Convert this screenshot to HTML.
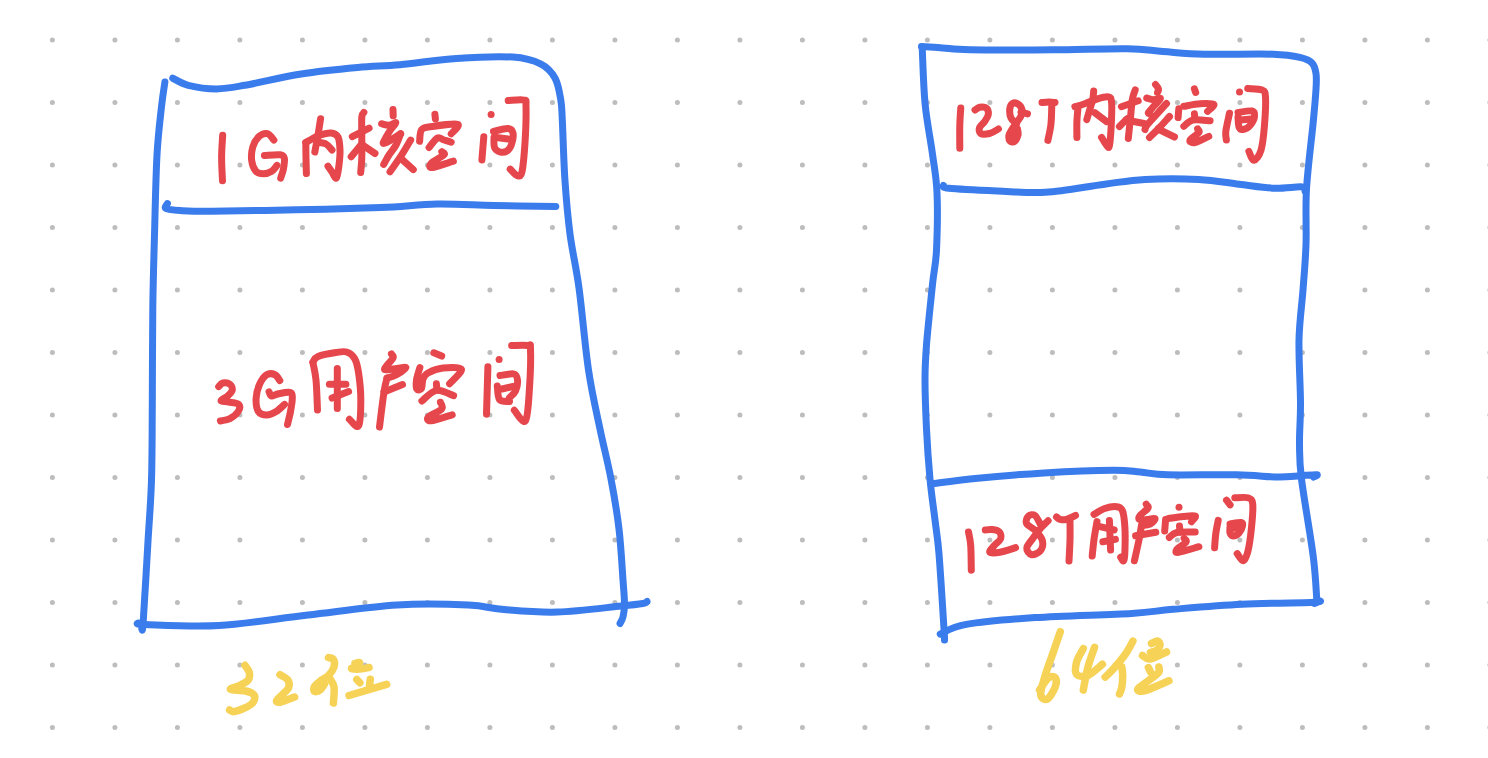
<!DOCTYPE html>
<html><head><meta charset="utf-8"><style>
html,body{margin:0;padding:0;background:#fff;width:1488px;height:758px;overflow:hidden}
svg{display:block;position:absolute;left:0;top:0}
</style></head><body>
<svg width="1488" height="758" viewBox="0 0 1488 758">
<rect width="1488" height="758" fill="#ffffff"/>
<g fill="#bdbdbd"><circle cx="52.40" cy="40.00" r="2.5"/><circle cx="114.90" cy="40.00" r="2.5"/><circle cx="177.40" cy="40.00" r="2.5"/><circle cx="239.90" cy="40.00" r="2.5"/><circle cx="302.40" cy="40.00" r="2.5"/><circle cx="364.90" cy="40.00" r="2.5"/><circle cx="427.40" cy="40.00" r="2.5"/><circle cx="489.90" cy="40.00" r="2.5"/><circle cx="552.40" cy="40.00" r="2.5"/><circle cx="614.90" cy="40.00" r="2.5"/><circle cx="677.40" cy="40.00" r="2.5"/><circle cx="739.90" cy="40.00" r="2.5"/><circle cx="802.40" cy="40.00" r="2.5"/><circle cx="864.90" cy="40.00" r="2.5"/><circle cx="927.40" cy="40.00" r="2.5"/><circle cx="989.90" cy="40.00" r="2.5"/><circle cx="1052.40" cy="40.00" r="2.5"/><circle cx="1114.90" cy="40.00" r="2.5"/><circle cx="1177.40" cy="40.00" r="2.5"/><circle cx="1239.90" cy="40.00" r="2.5"/><circle cx="1302.40" cy="40.00" r="2.5"/><circle cx="1364.90" cy="40.00" r="2.5"/><circle cx="1427.40" cy="40.00" r="2.5"/><circle cx="1489.90" cy="40.00" r="2.5"/><circle cx="52.40" cy="102.50" r="2.5"/><circle cx="114.90" cy="102.50" r="2.5"/><circle cx="177.40" cy="102.50" r="2.5"/><circle cx="239.90" cy="102.50" r="2.5"/><circle cx="302.40" cy="102.50" r="2.5"/><circle cx="364.90" cy="102.50" r="2.5"/><circle cx="427.40" cy="102.50" r="2.5"/><circle cx="489.90" cy="102.50" r="2.5"/><circle cx="552.40" cy="102.50" r="2.5"/><circle cx="614.90" cy="102.50" r="2.5"/><circle cx="677.40" cy="102.50" r="2.5"/><circle cx="739.90" cy="102.50" r="2.5"/><circle cx="802.40" cy="102.50" r="2.5"/><circle cx="864.90" cy="102.50" r="2.5"/><circle cx="927.40" cy="102.50" r="2.5"/><circle cx="989.90" cy="102.50" r="2.5"/><circle cx="1052.40" cy="102.50" r="2.5"/><circle cx="1114.90" cy="102.50" r="2.5"/><circle cx="1177.40" cy="102.50" r="2.5"/><circle cx="1239.90" cy="102.50" r="2.5"/><circle cx="1302.40" cy="102.50" r="2.5"/><circle cx="1364.90" cy="102.50" r="2.5"/><circle cx="1427.40" cy="102.50" r="2.5"/><circle cx="1489.90" cy="102.50" r="2.5"/><circle cx="52.40" cy="165.00" r="2.5"/><circle cx="114.90" cy="165.00" r="2.5"/><circle cx="177.40" cy="165.00" r="2.5"/><circle cx="239.90" cy="165.00" r="2.5"/><circle cx="302.40" cy="165.00" r="2.5"/><circle cx="364.90" cy="165.00" r="2.5"/><circle cx="427.40" cy="165.00" r="2.5"/><circle cx="489.90" cy="165.00" r="2.5"/><circle cx="552.40" cy="165.00" r="2.5"/><circle cx="614.90" cy="165.00" r="2.5"/><circle cx="677.40" cy="165.00" r="2.5"/><circle cx="739.90" cy="165.00" r="2.5"/><circle cx="802.40" cy="165.00" r="2.5"/><circle cx="864.90" cy="165.00" r="2.5"/><circle cx="927.40" cy="165.00" r="2.5"/><circle cx="989.90" cy="165.00" r="2.5"/><circle cx="1052.40" cy="165.00" r="2.5"/><circle cx="1114.90" cy="165.00" r="2.5"/><circle cx="1177.40" cy="165.00" r="2.5"/><circle cx="1239.90" cy="165.00" r="2.5"/><circle cx="1302.40" cy="165.00" r="2.5"/><circle cx="1364.90" cy="165.00" r="2.5"/><circle cx="1427.40" cy="165.00" r="2.5"/><circle cx="1489.90" cy="165.00" r="2.5"/><circle cx="52.40" cy="227.50" r="2.5"/><circle cx="114.90" cy="227.50" r="2.5"/><circle cx="177.40" cy="227.50" r="2.5"/><circle cx="239.90" cy="227.50" r="2.5"/><circle cx="302.40" cy="227.50" r="2.5"/><circle cx="364.90" cy="227.50" r="2.5"/><circle cx="427.40" cy="227.50" r="2.5"/><circle cx="489.90" cy="227.50" r="2.5"/><circle cx="552.40" cy="227.50" r="2.5"/><circle cx="614.90" cy="227.50" r="2.5"/><circle cx="677.40" cy="227.50" r="2.5"/><circle cx="739.90" cy="227.50" r="2.5"/><circle cx="802.40" cy="227.50" r="2.5"/><circle cx="864.90" cy="227.50" r="2.5"/><circle cx="927.40" cy="227.50" r="2.5"/><circle cx="989.90" cy="227.50" r="2.5"/><circle cx="1052.40" cy="227.50" r="2.5"/><circle cx="1114.90" cy="227.50" r="2.5"/><circle cx="1177.40" cy="227.50" r="2.5"/><circle cx="1239.90" cy="227.50" r="2.5"/><circle cx="1302.40" cy="227.50" r="2.5"/><circle cx="1364.90" cy="227.50" r="2.5"/><circle cx="1427.40" cy="227.50" r="2.5"/><circle cx="1489.90" cy="227.50" r="2.5"/><circle cx="52.40" cy="290.00" r="2.5"/><circle cx="114.90" cy="290.00" r="2.5"/><circle cx="177.40" cy="290.00" r="2.5"/><circle cx="239.90" cy="290.00" r="2.5"/><circle cx="302.40" cy="290.00" r="2.5"/><circle cx="364.90" cy="290.00" r="2.5"/><circle cx="427.40" cy="290.00" r="2.5"/><circle cx="489.90" cy="290.00" r="2.5"/><circle cx="552.40" cy="290.00" r="2.5"/><circle cx="614.90" cy="290.00" r="2.5"/><circle cx="677.40" cy="290.00" r="2.5"/><circle cx="739.90" cy="290.00" r="2.5"/><circle cx="802.40" cy="290.00" r="2.5"/><circle cx="864.90" cy="290.00" r="2.5"/><circle cx="927.40" cy="290.00" r="2.5"/><circle cx="989.90" cy="290.00" r="2.5"/><circle cx="1052.40" cy="290.00" r="2.5"/><circle cx="1114.90" cy="290.00" r="2.5"/><circle cx="1177.40" cy="290.00" r="2.5"/><circle cx="1239.90" cy="290.00" r="2.5"/><circle cx="1302.40" cy="290.00" r="2.5"/><circle cx="1364.90" cy="290.00" r="2.5"/><circle cx="1427.40" cy="290.00" r="2.5"/><circle cx="1489.90" cy="290.00" r="2.5"/><circle cx="52.40" cy="352.50" r="2.5"/><circle cx="114.90" cy="352.50" r="2.5"/><circle cx="177.40" cy="352.50" r="2.5"/><circle cx="239.90" cy="352.50" r="2.5"/><circle cx="302.40" cy="352.50" r="2.5"/><circle cx="364.90" cy="352.50" r="2.5"/><circle cx="427.40" cy="352.50" r="2.5"/><circle cx="489.90" cy="352.50" r="2.5"/><circle cx="552.40" cy="352.50" r="2.5"/><circle cx="614.90" cy="352.50" r="2.5"/><circle cx="677.40" cy="352.50" r="2.5"/><circle cx="739.90" cy="352.50" r="2.5"/><circle cx="802.40" cy="352.50" r="2.5"/><circle cx="864.90" cy="352.50" r="2.5"/><circle cx="927.40" cy="352.50" r="2.5"/><circle cx="989.90" cy="352.50" r="2.5"/><circle cx="1052.40" cy="352.50" r="2.5"/><circle cx="1114.90" cy="352.50" r="2.5"/><circle cx="1177.40" cy="352.50" r="2.5"/><circle cx="1239.90" cy="352.50" r="2.5"/><circle cx="1302.40" cy="352.50" r="2.5"/><circle cx="1364.90" cy="352.50" r="2.5"/><circle cx="1427.40" cy="352.50" r="2.5"/><circle cx="1489.90" cy="352.50" r="2.5"/><circle cx="52.40" cy="415.00" r="2.5"/><circle cx="114.90" cy="415.00" r="2.5"/><circle cx="177.40" cy="415.00" r="2.5"/><circle cx="239.90" cy="415.00" r="2.5"/><circle cx="302.40" cy="415.00" r="2.5"/><circle cx="364.90" cy="415.00" r="2.5"/><circle cx="427.40" cy="415.00" r="2.5"/><circle cx="489.90" cy="415.00" r="2.5"/><circle cx="552.40" cy="415.00" r="2.5"/><circle cx="614.90" cy="415.00" r="2.5"/><circle cx="677.40" cy="415.00" r="2.5"/><circle cx="739.90" cy="415.00" r="2.5"/><circle cx="802.40" cy="415.00" r="2.5"/><circle cx="864.90" cy="415.00" r="2.5"/><circle cx="927.40" cy="415.00" r="2.5"/><circle cx="989.90" cy="415.00" r="2.5"/><circle cx="1052.40" cy="415.00" r="2.5"/><circle cx="1114.90" cy="415.00" r="2.5"/><circle cx="1177.40" cy="415.00" r="2.5"/><circle cx="1239.90" cy="415.00" r="2.5"/><circle cx="1302.40" cy="415.00" r="2.5"/><circle cx="1364.90" cy="415.00" r="2.5"/><circle cx="1427.40" cy="415.00" r="2.5"/><circle cx="1489.90" cy="415.00" r="2.5"/><circle cx="52.40" cy="477.50" r="2.5"/><circle cx="114.90" cy="477.50" r="2.5"/><circle cx="177.40" cy="477.50" r="2.5"/><circle cx="239.90" cy="477.50" r="2.5"/><circle cx="302.40" cy="477.50" r="2.5"/><circle cx="364.90" cy="477.50" r="2.5"/><circle cx="427.40" cy="477.50" r="2.5"/><circle cx="489.90" cy="477.50" r="2.5"/><circle cx="552.40" cy="477.50" r="2.5"/><circle cx="614.90" cy="477.50" r="2.5"/><circle cx="677.40" cy="477.50" r="2.5"/><circle cx="739.90" cy="477.50" r="2.5"/><circle cx="802.40" cy="477.50" r="2.5"/><circle cx="864.90" cy="477.50" r="2.5"/><circle cx="927.40" cy="477.50" r="2.5"/><circle cx="989.90" cy="477.50" r="2.5"/><circle cx="1052.40" cy="477.50" r="2.5"/><circle cx="1114.90" cy="477.50" r="2.5"/><circle cx="1177.40" cy="477.50" r="2.5"/><circle cx="1239.90" cy="477.50" r="2.5"/><circle cx="1302.40" cy="477.50" r="2.5"/><circle cx="1364.90" cy="477.50" r="2.5"/><circle cx="1427.40" cy="477.50" r="2.5"/><circle cx="1489.90" cy="477.50" r="2.5"/><circle cx="52.40" cy="540.00" r="2.5"/><circle cx="114.90" cy="540.00" r="2.5"/><circle cx="177.40" cy="540.00" r="2.5"/><circle cx="239.90" cy="540.00" r="2.5"/><circle cx="302.40" cy="540.00" r="2.5"/><circle cx="364.90" cy="540.00" r="2.5"/><circle cx="427.40" cy="540.00" r="2.5"/><circle cx="489.90" cy="540.00" r="2.5"/><circle cx="552.40" cy="540.00" r="2.5"/><circle cx="614.90" cy="540.00" r="2.5"/><circle cx="677.40" cy="540.00" r="2.5"/><circle cx="739.90" cy="540.00" r="2.5"/><circle cx="802.40" cy="540.00" r="2.5"/><circle cx="864.90" cy="540.00" r="2.5"/><circle cx="927.40" cy="540.00" r="2.5"/><circle cx="989.90" cy="540.00" r="2.5"/><circle cx="1052.40" cy="540.00" r="2.5"/><circle cx="1114.90" cy="540.00" r="2.5"/><circle cx="1177.40" cy="540.00" r="2.5"/><circle cx="1239.90" cy="540.00" r="2.5"/><circle cx="1302.40" cy="540.00" r="2.5"/><circle cx="1364.90" cy="540.00" r="2.5"/><circle cx="1427.40" cy="540.00" r="2.5"/><circle cx="1489.90" cy="540.00" r="2.5"/><circle cx="52.40" cy="602.50" r="2.5"/><circle cx="114.90" cy="602.50" r="2.5"/><circle cx="177.40" cy="602.50" r="2.5"/><circle cx="239.90" cy="602.50" r="2.5"/><circle cx="302.40" cy="602.50" r="2.5"/><circle cx="364.90" cy="602.50" r="2.5"/><circle cx="427.40" cy="602.50" r="2.5"/><circle cx="489.90" cy="602.50" r="2.5"/><circle cx="552.40" cy="602.50" r="2.5"/><circle cx="614.90" cy="602.50" r="2.5"/><circle cx="677.40" cy="602.50" r="2.5"/><circle cx="739.90" cy="602.50" r="2.5"/><circle cx="802.40" cy="602.50" r="2.5"/><circle cx="864.90" cy="602.50" r="2.5"/><circle cx="927.40" cy="602.50" r="2.5"/><circle cx="989.90" cy="602.50" r="2.5"/><circle cx="1052.40" cy="602.50" r="2.5"/><circle cx="1114.90" cy="602.50" r="2.5"/><circle cx="1177.40" cy="602.50" r="2.5"/><circle cx="1239.90" cy="602.50" r="2.5"/><circle cx="1302.40" cy="602.50" r="2.5"/><circle cx="1364.90" cy="602.50" r="2.5"/><circle cx="1427.40" cy="602.50" r="2.5"/><circle cx="1489.90" cy="602.50" r="2.5"/><circle cx="52.40" cy="665.00" r="2.5"/><circle cx="114.90" cy="665.00" r="2.5"/><circle cx="177.40" cy="665.00" r="2.5"/><circle cx="239.90" cy="665.00" r="2.5"/><circle cx="302.40" cy="665.00" r="2.5"/><circle cx="364.90" cy="665.00" r="2.5"/><circle cx="427.40" cy="665.00" r="2.5"/><circle cx="489.90" cy="665.00" r="2.5"/><circle cx="552.40" cy="665.00" r="2.5"/><circle cx="614.90" cy="665.00" r="2.5"/><circle cx="677.40" cy="665.00" r="2.5"/><circle cx="739.90" cy="665.00" r="2.5"/><circle cx="802.40" cy="665.00" r="2.5"/><circle cx="864.90" cy="665.00" r="2.5"/><circle cx="927.40" cy="665.00" r="2.5"/><circle cx="989.90" cy="665.00" r="2.5"/><circle cx="1052.40" cy="665.00" r="2.5"/><circle cx="1114.90" cy="665.00" r="2.5"/><circle cx="1177.40" cy="665.00" r="2.5"/><circle cx="1239.90" cy="665.00" r="2.5"/><circle cx="1302.40" cy="665.00" r="2.5"/><circle cx="1364.90" cy="665.00" r="2.5"/><circle cx="1427.40" cy="665.00" r="2.5"/><circle cx="1489.90" cy="665.00" r="2.5"/><circle cx="52.40" cy="727.50" r="2.5"/><circle cx="114.90" cy="727.50" r="2.5"/><circle cx="177.40" cy="727.50" r="2.5"/><circle cx="239.90" cy="727.50" r="2.5"/><circle cx="302.40" cy="727.50" r="2.5"/><circle cx="364.90" cy="727.50" r="2.5"/><circle cx="427.40" cy="727.50" r="2.5"/><circle cx="489.90" cy="727.50" r="2.5"/><circle cx="552.40" cy="727.50" r="2.5"/><circle cx="614.90" cy="727.50" r="2.5"/><circle cx="677.40" cy="727.50" r="2.5"/><circle cx="739.90" cy="727.50" r="2.5"/><circle cx="802.40" cy="727.50" r="2.5"/><circle cx="864.90" cy="727.50" r="2.5"/><circle cx="927.40" cy="727.50" r="2.5"/><circle cx="989.90" cy="727.50" r="2.5"/><circle cx="1052.40" cy="727.50" r="2.5"/><circle cx="1114.90" cy="727.50" r="2.5"/><circle cx="1177.40" cy="727.50" r="2.5"/><circle cx="1239.90" cy="727.50" r="2.5"/><circle cx="1302.40" cy="727.50" r="2.5"/><circle cx="1364.90" cy="727.50" r="2.5"/><circle cx="1427.40" cy="727.50" r="2.5"/><circle cx="1489.90" cy="727.50" r="2.5"/></g>
<g fill="none" stroke="#3b7cec" stroke-width="7" stroke-linecap="round" stroke-linejoin="round"><path d="M172.7,78.2C175.3,79.4 180.9,83.5 188.2,85.3C195.5,87.1 207.0,88.9 216.4,88.9C225.8,88.9 230.6,87.8 244.7,85.3C258.8,82.8 282.3,77.0 301.1,74.0C319.9,71.0 341.1,69.0 357.6,67.5C374.1,66.0 383.4,66.2 399.9,64.7C416.4,63.2 437.6,59.8 456.4,58.5C475.2,57.2 498.7,56.2 512.8,57.1C526.9,58.0 534.0,60.6 541.0,64.1C548.0,67.6 551.8,72.2 555.1,78.2C558.4,84.2 559.6,93.0 560.8,100.0C562.0,107.0 561.6,106.5 562.3,120.0C563.0,133.5 563.7,162.0 565.0,181.0C566.3,200.0 567.7,216.2 570.0,234.0C572.3,251.8 575.9,265.3 579.0,288.0C582.1,310.7 585.0,346.5 588.5,370.0C592.0,393.5 596.2,410.8 600.0,429.0C603.8,447.2 607.8,462.3 611.0,479.0C614.2,495.7 617.0,512.2 619.0,529.0C621.0,545.8 622.1,567.5 623.0,580.0C623.9,592.5 624.5,597.8 624.5,604.0C624.5,610.2 623.8,613.8 623.0,617.0C622.2,620.2 620.5,622.4 620.0,623.5"/><path d="M164.9,82.0C164.3,86.2 162.7,95.3 161.4,107.5C160.1,119.7 158.2,133.8 157.0,155.0C155.8,176.2 155.2,209.7 154.5,235.0C153.8,260.3 153.2,278.7 152.8,307.0C152.4,335.3 152.5,376.2 152.3,405.0C152.1,433.8 152.2,457.0 151.5,480.0C150.8,503.0 149.3,519.3 147.9,543.0C146.5,566.7 144.2,607.8 143.2,622.0C142.2,636.2 142.0,627.4 141.8,628.5"/><path d="M138.5,623.0C139.6,623.2 131.6,624.1 145.0,624.5C158.4,624.9 191.8,627.2 219.0,625.6C246.2,624.0 278.3,618.4 308.0,615.0C337.7,611.6 370.3,606.7 397.0,605.0C423.7,603.3 450.5,604.2 468.3,605.0C486.1,605.8 489.1,608.4 504.0,609.6C518.9,610.8 537.8,612.7 557.4,612.1C577.0,611.5 607.2,607.4 621.4,606.0C635.6,604.6 638.5,604.2 642.8,603.5C647.1,602.8 646.3,601.8 647.0,601.5"/><path d="M167.5,203.5C167.2,204.3 163.9,207.3 166.0,208.5C168.1,209.7 172.4,210.1 180.0,210.5C187.6,210.9 192.1,211.3 211.4,211.2C230.8,211.1 267.9,210.4 296.1,209.8C324.3,209.2 357.3,208.4 380.8,207.5C404.3,206.6 418.4,204.4 437.2,204.1C456.0,203.8 473.9,205.1 493.7,205.5C513.5,205.9 545.4,206.2 555.8,206.4"/><path d="M921.5,46.5C925.0,46.7 934.5,47.4 942.6,47.9C950.7,48.4 951.7,49.5 970.1,49.8C988.5,50.1 1026.6,50.0 1052.8,49.8C1079.0,49.6 1108.8,48.4 1127.2,48.7C1145.6,49.0 1150.2,50.6 1163.0,51.5C1175.8,52.4 1185.9,53.8 1204.3,54.2C1222.7,54.7 1257.1,53.6 1273.2,54.2C1289.3,54.8 1294.3,56.1 1300.8,57.6C1307.3,59.1 1309.5,60.4 1312.0,63.0C1314.5,65.7 1315.3,69.1 1316.0,73.5C1316.7,77.9 1316.5,81.3 1316.0,89.4C1315.5,97.5 1314.8,105.7 1313.2,122.3C1311.6,138.9 1307.7,168.6 1306.5,189.0C1305.3,209.4 1306.6,227.7 1306.0,244.5C1305.4,261.3 1304.2,274.1 1303.0,290.0C1301.8,305.9 1299.4,321.2 1299.0,340.0C1298.6,358.8 1300.4,385.3 1300.5,402.6C1300.6,419.9 1299.3,431.3 1299.5,444.0C1299.7,456.7 1299.2,460.2 1301.5,479.0C1303.8,497.8 1310.8,536.8 1313.3,556.9C1315.8,577.0 1316.2,592.5 1316.8,599.6"/><path d="M922.2,47.7C922.7,57.1 923.4,86.2 925.1,103.9C926.8,121.7 930.5,139.4 932.5,154.2C934.5,169.0 936.3,176.6 937.0,192.6C937.7,208.6 937.2,234.7 936.5,250.0C935.8,265.3 934.1,268.8 932.5,284.4C930.9,300.0 927.9,327.7 926.6,343.5C925.4,359.3 925.0,364.8 925.0,379.0C925.0,393.2 925.7,412.3 926.5,429.0C927.3,445.7 928.6,463.8 930.0,479.0C931.4,494.2 933.5,507.5 935.0,520.0C936.5,532.5 937.5,535.8 939.0,554.0C940.5,572.2 943.1,614.7 944.0,629.0C944.9,643.3 944.4,638.2 944.5,640.0"/><path d="M943.4,185.5C944.3,185.9 939.8,187.3 948.8,188.2C957.8,189.1 981.1,190.2 997.2,190.9C1013.3,191.6 1027.7,193.4 1045.6,192.3C1063.5,191.2 1088.1,186.3 1104.7,184.2C1121.3,182.0 1129.3,180.2 1145.0,179.4C1160.7,178.6 1183.1,178.6 1198.8,179.4C1214.5,180.2 1226.5,182.7 1239.1,184.2C1251.6,185.7 1263.6,187.8 1274.1,188.2C1284.6,188.6 1297.1,186.3 1302.3,186.9C1307.5,187.5 1304.5,190.7 1305.0,191.5"/><path d="M931.0,483.9C938.4,483.0 956.3,480.2 975.1,478.4C993.9,476.6 1021.0,474.3 1044.0,472.9C1067.0,471.5 1096.8,470.3 1112.9,470.2C1129.0,470.1 1131.2,471.3 1140.4,472.1C1149.6,472.9 1151.9,474.4 1168.0,474.8C1184.1,475.2 1218.5,474.4 1236.9,474.8C1255.3,475.2 1267.6,476.9 1278.2,477.0C1288.8,477.1 1293.9,476.1 1300.3,475.7C1306.7,475.3 1314.6,474.6 1316.8,474.8C1319.0,475.0 1314.0,476.6 1313.5,477.0"/><path d="M940.2,634.1C944.6,632.5 950.5,627.1 966.3,624.4C982.1,621.6 1007.6,619.4 1035.2,617.6C1062.8,615.8 1108.7,614.8 1131.7,613.4C1154.7,612.0 1154.6,610.8 1173.0,609.3C1191.4,607.8 1218.9,605.4 1241.9,604.3C1264.9,603.1 1297.7,602.9 1310.8,602.4C1323.9,601.9 1319.8,600.8 1320.4,601.0C1321.0,601.2 1315.5,603.1 1314.5,603.5"/></g>
<g fill="none" stroke="#e6474c" stroke-width="7" stroke-linecap="round" stroke-linejoin="round"><path d="M222.7,135.3C222.5,139.0 221.6,149.9 221.6,157.5C221.6,165.1 222.3,176.8 222.5,180.7"/><path d="M273.9,140.1C272.8,139.0 270.0,134.3 267.5,133.7C265.0,133.1 261.6,134.2 259.1,136.4C256.7,138.6 254.0,142.9 252.8,146.9C251.6,150.9 251.2,156.6 251.7,160.6C252.2,164.6 254.0,169.0 255.9,171.2C257.8,173.4 260.7,173.8 263.3,173.8C265.9,173.8 269.5,172.6 271.8,171.2C274.1,169.8 276.1,166.4 277.0,165.4"/><path d="M264.4,155.4C267.0,155.3 276.9,154.3 280.2,154.8C283.5,155.3 283.9,156.1 284.4,158.5C284.9,160.9 284.0,165.8 283.4,169.1C282.8,172.4 281.1,176.6 280.7,178.1"/><path d="M320.6,118.7C320.2,120.9 319.2,128.0 318.5,132.0C317.8,136.1 317.1,139.7 316.5,143.0C315.9,146.3 315.1,150.5 314.8,152.0"/><path d="M305.8,142.5C305.8,145.1 305.9,152.8 306.0,158.0C306.1,163.2 306.3,171.0 306.4,173.6"/><path d="M305.8,142.5C307.8,141.4 313.8,137.6 318.0,136.0C322.2,134.4 327.7,132.8 331.0,133.0C334.3,133.2 336.5,134.2 338.0,137.0C339.5,139.8 339.8,145.3 340.0,150.0C340.2,154.7 339.6,160.3 339.0,165.0C338.4,169.7 337.6,176.8 336.4,178.0C335.2,179.2 333.4,174.0 332.0,172.0C330.6,170.0 328.7,167.2 328.0,166.2"/><path d="M317.0,142.0C318.5,142.3 323.5,142.7 326.0,144.0C328.5,145.3 331.0,149.0 332.0,150.0"/><path d="M363.9,112.4C363.5,113.2 362.1,113.0 361.8,117.0C361.5,121.0 361.8,129.9 361.8,136.7C361.8,143.5 362.0,151.8 361.8,157.8C361.6,163.8 360.9,170.1 360.7,172.5"/><path d="M352.3,136.7L369.1,128.2"/><path d="M360.7,145.1L351.2,156.7"/><path d="M362.8,145.1L375.0,153.5"/><path d="M393.0,109.5L393.2,115.8"/><path d="M381.6,123.7C382.8,124.0 386.6,125.5 389.0,125.3C391.4,125.1 395.7,121.8 395.9,122.7C396.1,123.6 391.9,127.7 390.0,130.6C388.1,133.5 385.6,137.8 384.5,140.0C383.4,142.2 382.8,143.3 383.5,143.5C384.2,143.7 386.1,142.8 389.0,141.2C391.9,139.6 398.7,135.0 400.6,133.8"/><path d="M400.6,133.8C399.8,135.7 397.9,141.5 396.0,145.0C394.1,148.5 391.1,151.8 389.0,155.0C386.9,158.2 384.6,162.8 383.7,164.4"/><path d="M410.6,140.1C409.1,142.6 405.1,149.6 401.7,154.9C398.3,160.2 391.9,169.0 390.0,171.8"/><path d="M401.7,159.1L413.3,169.6"/><path d="M434.9,114.2L435.4,119.0"/><path d="M419.6,141.2C420.0,139.2 419.6,131.9 421.7,129.5C423.8,127.0 426.0,127.4 432.0,126.5C438.0,125.6 454.4,123.1 457.6,124.3C460.8,125.5 452.3,132.2 451.2,133.8"/><path d="M429.1,147.5C430.5,145.9 435.0,139.2 437.5,138.0C440.0,136.8 441.7,139.3 444.0,140.0C446.3,140.7 450.0,141.8 451.2,142.2"/><path d="M441.8,151.7C442.1,152.2 445.7,153.0 443.9,154.9C442.1,156.8 433.1,161.2 431.2,163.3C429.3,165.4 428.6,167.8 432.3,167.5C436.0,167.2 449.9,162.2 453.4,161.2"/><path d="M491.1,114.4l0.01,0"/><path d="M483.8,136.8L481.9,159.9"/><path d="M508.2,100.5C510.8,100.4 521.0,99.1 524.0,100.0C527.0,100.9 525.8,98.9 526.0,106.0C526.2,113.1 525.7,131.8 525.0,142.7C524.3,153.6 523.2,166.2 522.0,171.7C520.8,177.2 519.5,176.1 517.5,175.7C515.5,175.3 511.4,170.2 510.2,169.1"/><path d="M493.5,131.5C495.9,131.0 504.8,128.2 508.0,128.5C511.2,128.8 512.4,130.3 513.0,133.0C513.6,135.7 512.5,141.5 511.5,144.5C510.5,147.5 508.9,149.8 507.0,151.0C505.1,152.2 502.1,152.6 500.0,152.0C497.9,151.4 495.5,149.9 494.5,147.5C493.5,145.1 494.1,139.2 494.0,137.5"/><path d="M496.5,137.5L508.0,139.0"/><path d="M218.7,386.6C219.4,386.0 220.9,383.4 222.8,383.0C224.7,382.6 228.3,383.0 229.9,384.2C231.5,385.4 232.7,388.1 232.3,390.1C231.9,392.1 229.5,394.2 227.6,396.0C225.7,397.8 220.8,399.8 221.0,400.8C221.2,401.8 225.7,401.4 228.7,402.0C231.7,402.6 237.2,402.8 238.8,404.4C240.4,406.0 239.7,409.1 238.2,411.5C236.7,413.9 232.9,417.0 229.9,418.6C226.9,420.2 222.0,420.6 220.4,421.0"/><path d="M279.8,380.6C279.0,379.6 277.2,375.7 275.0,374.7C272.8,373.7 269.3,373.1 266.7,374.7C264.1,376.3 261.4,380.2 259.6,384.2C257.8,388.1 256.3,393.8 256.1,398.4C255.9,402.9 256.6,408.7 258.4,411.5C260.2,414.3 263.7,415.0 266.7,415.0C269.7,415.0 273.2,413.3 276.2,411.5C279.2,409.7 283.1,405.6 284.5,404.4"/><path d="M269.1,391.9C269.5,392.6 269.9,395.7 271.5,396.0C273.1,396.3 275.4,394.3 278.6,393.7C281.8,393.1 288.2,391.7 290.5,392.5C292.8,393.3 292.3,395.2 292.3,398.4C292.3,401.6 291.3,407.1 290.5,411.5C289.7,415.9 288.0,422.3 287.5,424.5"/><path d="M313.0,363.0C313.5,365.8 315.2,372.2 316.0,380.0C316.8,387.8 317.2,405.0 317.5,410.0"/><path d="M312.9,362.0C313.8,361.1 314.1,358.1 318.0,356.5C321.9,354.9 331.2,353.2 336.0,352.5C340.8,351.8 343.6,351.0 346.7,352.0C349.8,353.0 352.6,355.0 354.6,358.5C356.6,362.0 357.6,366.2 358.6,373.0C359.6,379.8 360.8,390.6 360.8,399.4C360.8,408.2 360.5,422.5 358.6,425.8C356.7,429.1 350.9,420.3 349.4,419.2"/><path d="M337.3,368.4L337.3,408.6"/><path d="M329.4,384.2L345.9,384.2"/><path d="M332.1,398.1L348.6,391.5"/><path d="M391.4,353.9C391.7,354.6 394.1,355.5 393.0,358.0C391.9,360.5 384.5,367.2 384.5,369.0C384.5,370.8 389.4,369.2 393.0,369.0C396.6,368.8 405.5,366.5 406.0,367.5C406.5,368.5 399.2,373.2 396.0,375.0C392.8,376.8 388.5,377.5 387.0,378.0"/><path d="M387.0,378.0C386.5,380.3 385.2,383.8 384.0,392.0C382.8,400.2 380.2,421.2 379.5,427.0"/><path d="M384.0,392.0L402.5,384.5"/><path d="M433.8,352.8L441.7,356.1"/><path d="M419.9,367.5C419.3,369.6 417.0,376.4 416.5,380.0C416.0,383.6 416.0,387.6 416.8,389.0C417.6,390.4 420.5,390.2 421.5,388.5C422.5,386.8 421.9,381.6 423.0,379.0C424.1,376.4 424.7,374.8 428.0,373.0C431.3,371.2 437.4,368.6 443.0,368.0C448.6,367.4 460.4,366.7 461.5,369.3C462.6,371.9 451.6,381.4 449.6,383.8"/><path d="M421.9,401.0C424.3,399.2 431.1,391.3 436.4,390.4C441.7,389.5 450.7,394.8 453.6,395.7"/><path d="M436.4,383.8L437.0,390.0"/><path d="M440.4,402.3C440.6,403.4 443.7,406.5 441.7,408.9C439.7,411.3 430.3,414.8 428.5,416.8C426.7,418.8 427.2,421.1 431.1,420.8C435.1,420.5 448.7,415.8 452.2,414.8"/><path d="M499.1,359.4l0.01,0"/><path d="M487.9,366.7L486.5,414.2"/><path d="M511.6,345.5C514.3,345.5 524.9,344.9 528.0,345.5C531.1,346.1 530.2,341.9 530.5,349.0C530.8,356.1 530.3,375.8 529.5,387.8C528.7,399.8 528.0,417.1 525.5,420.8C523.0,424.5 516.2,412.0 514.3,410.2"/><path d="M500.0,375.5C502.3,375.2 511.1,373.2 514.0,374.0C516.9,374.8 517.2,377.2 517.5,380.0C517.8,382.8 516.8,388.1 515.5,391.0C514.2,393.9 510.5,396.4 509.5,397.5"/><path d="M497.3,386.0C497.7,388.2 497.5,396.9 499.5,399.5C501.5,402.1 507.8,401.2 509.5,401.5"/><path d="M502.0,389.0L513.0,386.5"/><path d="M960.8,108.0C960.6,110.8 960.0,118.3 959.8,125.0C959.6,131.7 959.8,144.4 959.8,148.3"/><path d="M975.0,110.0C975.8,109.5 977.7,107.6 979.6,107.3C981.5,107.0 984.8,106.8 986.3,108.0C987.8,109.2 988.6,112.2 988.3,114.5C988.0,116.8 986.0,119.4 984.6,121.6C983.2,123.8 980.3,125.5 979.6,127.5C978.9,129.5 979.0,132.5 980.6,133.5C982.2,134.5 986.5,134.2 989.5,133.5C992.5,132.8 996.9,129.8 998.4,129.0"/><path d="M1016.5,124.0C1015.6,123.0 1012.1,120.5 1011.0,118.0C1009.9,115.5 1009.5,111.4 1009.8,109.0C1010.0,106.6 1011.1,104.3 1012.5,103.5C1013.9,102.7 1016.4,103.0 1018.0,104.0C1019.6,105.0 1021.5,107.5 1022.0,109.5C1022.5,111.5 1021.8,113.9 1021.0,116.0C1020.2,118.1 1018.4,119.9 1017.0,122.0C1015.6,124.1 1013.8,126.3 1012.5,128.5C1011.2,130.7 1009.4,132.9 1009.0,135.0C1008.6,137.1 1009.1,139.9 1010.0,141.0C1010.9,142.1 1013.2,142.5 1014.5,141.5C1015.8,140.5 1017.5,137.1 1018.0,135.0C1018.5,132.9 1017.6,130.0 1017.5,129.0"/><path d="M1021.0,112.0L1027.5,113.8"/><path d="M1013.0,134.0L1013.5,137.0"/><path d="M1042.0,102.5C1043.2,102.4 1046.8,102.0 1049.0,102.0C1051.2,102.0 1054.0,102.4 1055.0,102.5"/><path d="M1051.8,104.8C1051.7,108.1 1051.6,118.7 1050.9,124.6C1050.2,130.5 1048.4,137.8 1047.9,140.4"/><path d="M1093.7,90.9C1093.5,92.4 1093.4,96.7 1092.7,99.8C1092.0,102.9 1090.7,106.4 1089.7,109.7C1088.7,113.0 1087.3,117.9 1086.8,119.6"/><path d="M1077.9,108.7C1077.7,110.8 1077.1,116.8 1076.9,121.6C1076.7,126.4 1076.9,134.8 1076.9,137.4"/><path d="M1074.9,106.7C1076.6,106.2 1081.0,105.0 1084.8,103.7C1088.6,102.4 1093.6,100.0 1097.6,98.8C1101.5,97.6 1106.2,96.3 1108.5,96.8C1110.8,97.3 1111.0,98.0 1111.5,101.8C1112.0,105.6 1111.8,112.3 1111.5,119.6C1111.2,126.8 1110.3,141.0 1109.5,145.3C1108.7,149.6 1107.9,146.6 1106.6,145.3C1105.3,144.0 1102.4,138.7 1101.6,137.4"/><path d="M1094.7,112.6L1106.6,121.6"/><path d="M1135.2,89.9C1134.7,91.6 1133.1,94.8 1132.3,99.8C1131.5,104.8 1131.0,113.2 1130.3,119.6C1129.6,126.0 1128.6,135.3 1128.3,138.4"/><path d="M1121.4,106.7L1138.2,100.8"/><path d="M1127.3,118.6L1119.4,126.5"/><path d="M1126.0,120.0L1144.1,123.5"/><path d="M1155.5,84.5C1156.0,85.2 1158.2,87.7 1158.5,89.0C1158.8,90.3 1157.7,91.9 1157.5,92.5"/><path d="M1146.7,98.0C1147.8,98.3 1151.3,99.6 1153.6,99.7C1155.9,99.8 1160.4,97.4 1160.5,98.4C1160.6,99.5 1156.0,103.7 1154.0,106.0C1152.0,108.3 1149.2,111.2 1148.5,112.5C1147.8,113.8 1149.8,113.8 1150.0,114.0"/><path d="M1166.5,103.5C1164.9,105.2 1160.2,110.4 1157.0,114.0C1153.8,117.6 1149.0,122.4 1147.0,125.0C1145.0,127.6 1145.3,128.8 1145.0,129.5"/><path d="M1169.5,116.5C1167.9,118.2 1163.3,123.5 1160.0,127.0C1156.7,130.5 1151.2,135.8 1149.5,137.5"/><path d="M1158.0,129.0L1174.5,137.0"/><path d="M1194.4,88.8L1195.7,92.5"/><path d="M1178.8,108.8L1178.1,117.6"/><path d="M1183.8,106.3C1186.5,105.9 1195.1,104.1 1200.1,103.8C1205.1,103.5 1212.5,103.2 1213.8,104.4C1215.0,105.7 1208.6,110.2 1207.6,111.3"/><path d="M1183.8,126.4C1185.3,125.4 1188.2,121.0 1192.6,120.1C1197.0,119.1 1207.2,120.6 1210.1,120.7"/><path d="M1194.4,113.8L1195.0,119.5"/><path d="M1197.6,128.9C1197.8,129.5 1200.1,130.7 1198.8,132.6C1197.5,134.5 1190.6,138.4 1190.0,140.1C1189.4,141.8 1191.9,143.2 1195.0,142.6C1198.1,142.0 1206.5,137.4 1208.8,136.4"/><path d="M1239.5,91.9l0.01,0"/><path d="M1229.5,113.2C1228.9,116.2 1226.3,126.9 1225.8,131.4C1225.3,135.9 1226.3,138.7 1226.4,140.1"/><path d="M1247.7,88.5C1250.1,88.8 1259.0,88.6 1262.0,90.0C1265.0,91.4 1265.1,91.2 1265.5,97.0C1265.9,102.8 1265.2,116.2 1264.5,125.1C1263.8,134.0 1262.8,144.3 1261.0,150.2C1259.2,156.0 1255.9,160.0 1253.9,160.2C1251.9,160.4 1249.7,152.9 1248.9,151.4"/><path d="M1238.0,112.5C1240.3,112.2 1249.2,110.3 1252.0,111.0C1254.8,111.7 1254.8,114.1 1254.5,116.5C1254.2,118.9 1251.9,123.3 1250.0,125.5C1248.1,127.7 1244.8,129.2 1243.0,129.5C1241.2,129.8 1239.8,129.1 1239.0,127.0C1238.2,124.9 1238.2,118.7 1238.0,117.0"/><path d="M1240.5,120.0L1251.0,119.0"/><path d="M968.5,532.0C968.9,534.2 970.2,539.1 970.7,545.5C971.2,551.9 971.2,566.1 971.3,570.2"/><path d="M985.3,530.0C986.4,529.9 989.6,529.2 992.0,529.5C994.4,529.8 998.1,530.4 999.5,532.0C1000.9,533.6 1001.4,536.8 1000.5,539.0C999.6,541.2 996.1,543.3 994.3,545.5C992.5,547.7 988.9,551.1 989.8,552.2C990.7,553.3 995.6,553.0 999.9,552.2C1004.2,551.5 1013.0,548.5 1015.6,547.7"/><path d="M1048.1,520.8C1046.8,522.1 1042.6,525.9 1040.2,528.7C1037.8,531.5 1035.7,534.4 1033.5,537.6C1031.3,540.8 1027.2,544.9 1026.8,547.7C1026.4,550.5 1029.1,553.9 1031.3,554.5C1033.5,555.1 1038.3,553.4 1040.2,551.1C1042.1,548.9 1043.2,544.4 1042.5,541.0C1041.8,537.6 1038.5,533.8 1035.8,530.9C1033.1,528.0 1027.7,526.0 1026.5,523.5C1025.3,521.0 1027.1,517.3 1028.5,516.0C1029.9,514.7 1033.0,514.1 1035.0,515.5C1037.0,516.9 1039.6,523.0 1040.5,524.5"/><path d="M1056.5,517.0C1057.1,517.4 1058.4,518.9 1060.0,519.3C1061.6,519.7 1063.4,520.1 1066.0,519.5C1068.6,518.9 1073.9,516.2 1075.5,515.5"/><path d="M1070.0,521.0C1070.0,524.2 1070.2,533.3 1070.0,540.0C1069.8,546.7 1069.2,557.5 1069.0,561.0"/><path d="M1097.0,521.6C1096.5,524.6 1094.8,533.7 1094.0,539.4C1093.2,545.1 1092.5,553.2 1092.2,556.0"/><path d="M1094.0,514.4C1095.8,513.4 1100.9,509.8 1104.7,508.5C1108.5,507.2 1113.6,506.3 1116.6,506.7C1119.6,507.1 1121.1,507.4 1122.5,510.9C1123.9,514.4 1124.5,520.8 1124.9,527.5C1125.3,534.2 1125.1,545.8 1124.9,551.3C1124.7,556.8 1124.4,559.8 1123.7,560.8C1123.0,561.8 1121.2,557.8 1120.7,557.2"/><path d="M1109.4,520.4L1110.6,550.1"/><path d="M1098.8,526.3L1114.2,529.9"/><path d="M1102.9,541.8L1115.4,539.4"/><path d="M1146.2,504.2C1146.5,504.8 1149.0,506.1 1148.0,508.0C1147.0,509.9 1141.4,513.6 1140.0,515.5C1138.6,517.4 1138.3,518.8 1139.5,519.5C1140.7,520.2 1144.4,519.7 1147.0,519.5C1149.6,519.3 1154.4,517.8 1155.0,518.5C1155.6,519.2 1152.7,522.8 1150.5,524.0C1148.3,525.2 1143.4,525.2 1142.0,525.5"/><path d="M1141.5,525.1C1141.1,527.5 1140.3,533.5 1139.1,539.4C1137.9,545.3 1135.2,557.2 1134.4,560.8"/><path d="M1135.6,535.8L1155.8,532.3"/><path d="M1179.0,507.3l0.01,0"/><path d="M1165.6,519.5L1164.7,531.0"/><path d="M1168.4,518.5C1170.8,518.2 1178.5,516.9 1183.0,516.5C1187.5,516.1 1193.8,515.1 1195.2,516.0C1196.6,516.9 1192.1,520.8 1191.5,521.8"/><path d="M1169.3,537.5C1170.5,536.7 1172.4,533.4 1176.7,532.5C1181.0,531.6 1192.1,532.1 1195.2,532.0"/><path d="M1179.5,526.0L1180.0,532.0"/><path d="M1184.1,538.4C1184.4,539.0 1187.2,540.2 1186.0,542.1C1184.8,544.0 1177.9,547.8 1176.7,549.5C1175.5,551.2 1174.9,552.8 1178.6,552.3C1182.3,551.8 1195.5,547.6 1198.9,546.7"/><path d="M1226.5,500.2L1230.1,504.9"/><path d="M1218.2,520.4C1217.8,522.6 1216.4,529.0 1215.8,533.5C1215.2,538.0 1214.8,545.3 1214.6,547.7"/><path d="M1234.8,497.8C1237.0,497.8 1244.9,496.8 1247.9,497.8C1250.9,498.8 1252.1,498.9 1252.7,503.8C1253.3,508.8 1252.3,519.6 1251.5,527.5C1250.7,535.4 1249.3,545.8 1247.9,551.3C1246.5,556.8 1245.0,560.4 1243.2,560.8C1241.4,561.2 1238.2,554.8 1237.2,553.6"/><path d="M1230.0,524.0C1231.8,523.8 1238.9,522.2 1241.0,522.5C1243.1,522.8 1242.8,524.2 1242.5,526.0C1242.2,527.8 1240.6,531.3 1239.0,533.0C1237.4,534.7 1234.5,536.0 1233.0,536.0C1231.5,536.0 1230.5,534.5 1230.0,533.0C1229.5,531.5 1230.0,528.0 1230.0,527.0"/><path d="M1231.0,528.5L1241.0,527.5"/></g>
<g fill="none" stroke="#f6d256" stroke-width="7.5" stroke-linecap="round" stroke-linejoin="round"><path d="M244.9,665.3C245.6,666.4 248.6,669.8 249.2,672.2C249.8,674.6 249.7,677.8 248.3,679.9C246.9,682.0 243.6,683.4 240.6,685.0C237.6,686.6 229.7,688.3 230.5,689.3C231.3,690.3 241.7,690.0 245.7,691.0C249.7,692.0 253.2,693.3 254.3,695.3C255.5,697.3 254.3,700.9 252.6,703.0C250.9,705.1 247.2,706.8 244.0,708.2C240.8,709.6 236.1,711.3 233.7,711.6C231.3,711.9 230.3,710.3 229.6,710.0"/><path d="M280.0,674.7C281.3,675.6 286.4,677.8 287.8,679.9C289.2,682.0 289.6,685.0 288.6,687.6C287.6,690.2 283.7,693.1 281.7,695.3C279.7,697.4 276.9,699.4 276.6,700.5C276.3,701.6 277.0,702.8 280.0,702.2C283.0,701.6 292.2,697.9 294.6,697.0"/><path d="M328.5,657.5C329.3,657.8 332.6,657.9 333.5,659.5C334.4,661.1 334.8,664.3 334.0,667.0C333.2,669.7 330.7,673.2 328.5,675.5C326.3,677.8 323.3,678.7 321.0,680.5C318.7,682.3 315.6,684.7 314.5,686.5C313.4,688.3 313.6,690.9 314.5,691.5C315.4,692.1 318.3,691.2 320.0,690.0C321.7,688.8 323.8,685.0 324.5,684.0"/><path d="M329.2,677.4C330.0,679.0 333.3,682.6 334.0,686.9C334.7,691.2 333.5,700.3 333.4,703.0"/><path d="M355.0,663.5C355.8,663.3 359.2,662.0 359.5,662.5C359.8,663.0 358.3,665.5 357.0,666.5C355.7,667.5 351.0,668.1 351.5,668.5C352.0,668.9 357.1,669.2 360.0,669.0C362.9,668.8 367.5,667.8 369.0,667.5"/><path d="M356.8,679.5L359.8,682.8"/><path d="M370.3,679.2L369.5,685.5"/><path d="M349.0,695.5L386.6,684.3"/><path d="M1060.3,631.7C1059.1,635.2 1055.5,645.7 1053.0,653.0C1050.5,660.3 1047.2,668.6 1045.2,675.5C1043.2,682.4 1040.3,690.6 1040.7,694.5C1041.1,698.4 1045.0,700.3 1047.4,699.0C1049.8,697.7 1054.0,690.2 1055.3,686.7C1056.6,683.2 1056.4,679.2 1055.3,677.7C1054.2,676.2 1051.2,675.7 1048.6,677.7C1046.0,679.8 1041.1,688.0 1039.6,690.0"/><path d="M1083.3,648.6C1082.2,650.8 1077.7,657.7 1076.6,662.0C1075.5,666.3 1074.7,672.0 1076.6,674.3C1078.5,676.5 1083.5,677.2 1087.8,675.5C1092.1,673.8 1100.0,666.2 1102.4,664.3"/><path d="M1094.5,647.4C1093.4,650.8 1089.7,660.5 1087.8,667.6C1085.9,674.7 1084.0,686.3 1083.3,690.0"/><path d="M1132.9,641.1C1131.7,643.2 1128.7,649.4 1125.5,654.0C1122.3,658.6 1116.9,664.9 1113.5,668.8C1110.1,672.6 1106.6,675.7 1105.2,677.1"/><path d="M1121.8,667.0C1122.0,668.5 1122.7,672.8 1122.7,676.2C1122.7,679.6 1122.3,684.3 1121.8,687.3C1121.3,690.3 1119.9,692.9 1119.5,694.0"/><path d="M1151.5,643.5C1152.5,643.1 1156.1,640.8 1157.5,641.0C1158.9,641.2 1160.1,643.5 1160.0,645.0C1159.9,646.5 1158.6,648.8 1157.0,650.0C1155.4,651.2 1151.6,652.1 1150.5,652.5"/><path d="M1142.5,655.5C1143.8,656.1 1146.0,659.6 1150.0,659.0C1154.0,658.4 1163.8,653.2 1166.5,652.0"/><path d="M1148.4,667.6L1150.6,672.1"/><path d="M1158.8,667.0C1158.6,668.1 1161.0,670.0 1157.8,673.4C1154.6,676.8 1142.5,684.4 1139.4,687.3C1136.3,690.2 1137.8,690.5 1139.0,691.0C1140.2,691.5 1141.8,691.8 1146.8,690.1C1151.8,688.4 1165.2,682.3 1168.9,680.8"/></g>
</svg>
</body></html>
